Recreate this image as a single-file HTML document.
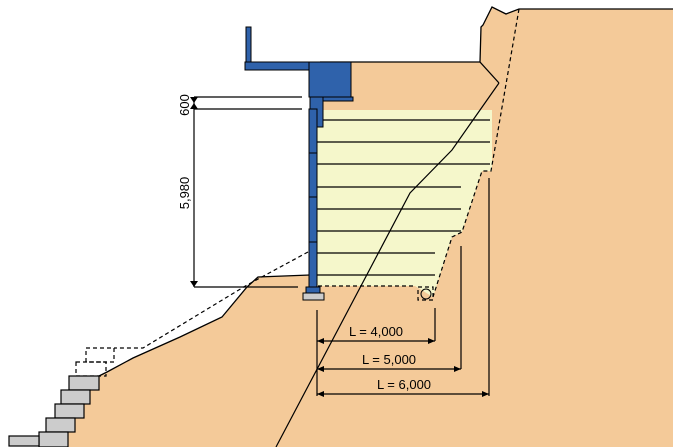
<!DOCTYPE html>
<html><head><style>body{margin:0;background:#fff}svg{display:block}</style></head><body>
<svg width="673" height="447" viewBox="0 0 673 447" xmlns="http://www.w3.org/2000/svg" font-family="Liberation Sans, sans-serif">
<polygon fill="#f4ca99" points="673,447 673,9 519,9 506,14 492,7 483,25 481,27 480,62 320,62 320,275 258,277 247,287 222,317 180,337 133,358 107,372 99,376 90,390 84,404 75,418 68,432 68,447"/>
<polyline fill="none" stroke="#000" stroke-width="1.3" points="673,9 519,9 506,14 492,7 483,25 481,27 480,62 499,83"/>
<line x1="320" y1="62" x2="480" y2="62" stroke="#000" stroke-width="1.3"/>
<polyline fill="none" stroke="#000" stroke-width="1.3" points="310,275 258,277 247,287 222,317 180,337 133,358 107,372 99,376"/>
<polygon fill="#f5f7cb" points="317,110 492,110 492,171 482,171 462,232 452,237 433,297 415,286 317,286"/>
<g stroke="#000" stroke-width="1.2">
<line x1="317" y1="120" x2="490" y2="120"/><line x1="317" y1="142" x2="490" y2="142"/>
<line x1="317" y1="164" x2="490" y2="164"/><line x1="317" y1="187" x2="461" y2="187"/>
<line x1="317" y1="209" x2="461" y2="209"/><line x1="317" y1="231" x2="461" y2="231"/>
<line x1="317" y1="253" x2="435" y2="253"/><line x1="317" y1="275" x2="435" y2="275"/>
</g>
<g fill="none" stroke="#000" stroke-width="1.2" stroke-dasharray="4,3">
<polyline points="519,9 491,171 482,171 462,232 452,237 433,297"/>
<line x1="318" y1="286" x2="415" y2="286"/>
<polyline points="308,252 247,285 143,348 114,348"/>
<rect x="86" y="348" width="28" height="14"/>
<rect x="76" y="362" width="30" height="14"/>
<rect x="418" y="287" width="15" height="13"/>
</g>
<circle cx="426" cy="294" r="5" fill="none" stroke="#000"/>
<polyline fill="none" stroke="#000" stroke-width="1.2" points="499,83 473,120 452,150 410,193 276,447"/>
<g fill="#cccccc" stroke="#000" stroke-width="1.2">
<rect x="69" y="376" width="30" height="14"/><rect x="61" y="390" width="29" height="14"/>
<rect x="55" y="404" width="29" height="14"/><rect x="46" y="418" width="29" height="14"/>
<rect x="39" y="432" width="29" height="15"/><rect x="9" y="436" width="30" height="10"/>
</g>
<g fill="#2f62ab" stroke="#000" stroke-width="1">
<rect x="246" y="27" width="5" height="36"/>
<rect x="245" y="62" width="64" height="8"/>
<rect x="309" y="62" width="42" height="35"/>
<rect x="323" y="97" width="30" height="4"/>
<rect x="310" y="97" width="13" height="30"/>
<rect x="309" y="109" width="8" height="44"/><rect x="309" y="153" width="8" height="44"/>
<rect x="309" y="197" width="8" height="45"/><rect x="309" y="242" width="8" height="45"/>
<rect x="306" y="287" width="14" height="7"/>
</g>
<rect x="303" y="293" width="21" height="7" fill="#cccccc" stroke="#000"/>
<g stroke="#000" stroke-width="1.2">
<line x1="194" y1="97" x2="194" y2="287"/>
<line x1="194" y1="97" x2="302" y2="97"/><line x1="194" y1="109" x2="302" y2="109"/>
<line x1="194" y1="287" x2="298" y2="287"/>
<line x1="317" y1="310" x2="317" y2="396"/><line x1="435" y1="308" x2="435" y2="341"/>
<line x1="461" y1="246" x2="461" y2="369"/><line x1="489" y1="178" x2="489" y2="396"/>
<line x1="317" y1="341" x2="435" y2="341"/><line x1="317" y1="369" x2="461" y2="369"/><line x1="317" y1="394" x2="489" y2="394"/>
</g>
<g fill="#000">
<polygon points="190,97 198,97 194,103"/><polygon points="190,109 198,109 194,103"/><polygon points="190,281 198,281 194,287"/>
<polygon points="317,341 324,338 324,344"/><polygon points="435,341 428,338 428,344"/>
<polygon points="317,369 324,366 324,372"/><polygon points="461,369 454,366 454,372"/>
<polygon points="317,394 324,391 324,397"/><polygon points="489,394 482,391 482,397"/>
</g>
<g font-size="13" fill="#000">
<text transform="translate(189,105) rotate(-90)" text-anchor="middle">600</text>
<text transform="translate(189,193) rotate(-90)" text-anchor="middle">5,980</text>
<text x="376" y="336" text-anchor="middle">L = 4,000</text>
<text x="389" y="364" text-anchor="middle">L = 5,000</text>
<text x="404" y="389" text-anchor="middle">L = 6,000</text>
</g>
</svg>
</body></html>
